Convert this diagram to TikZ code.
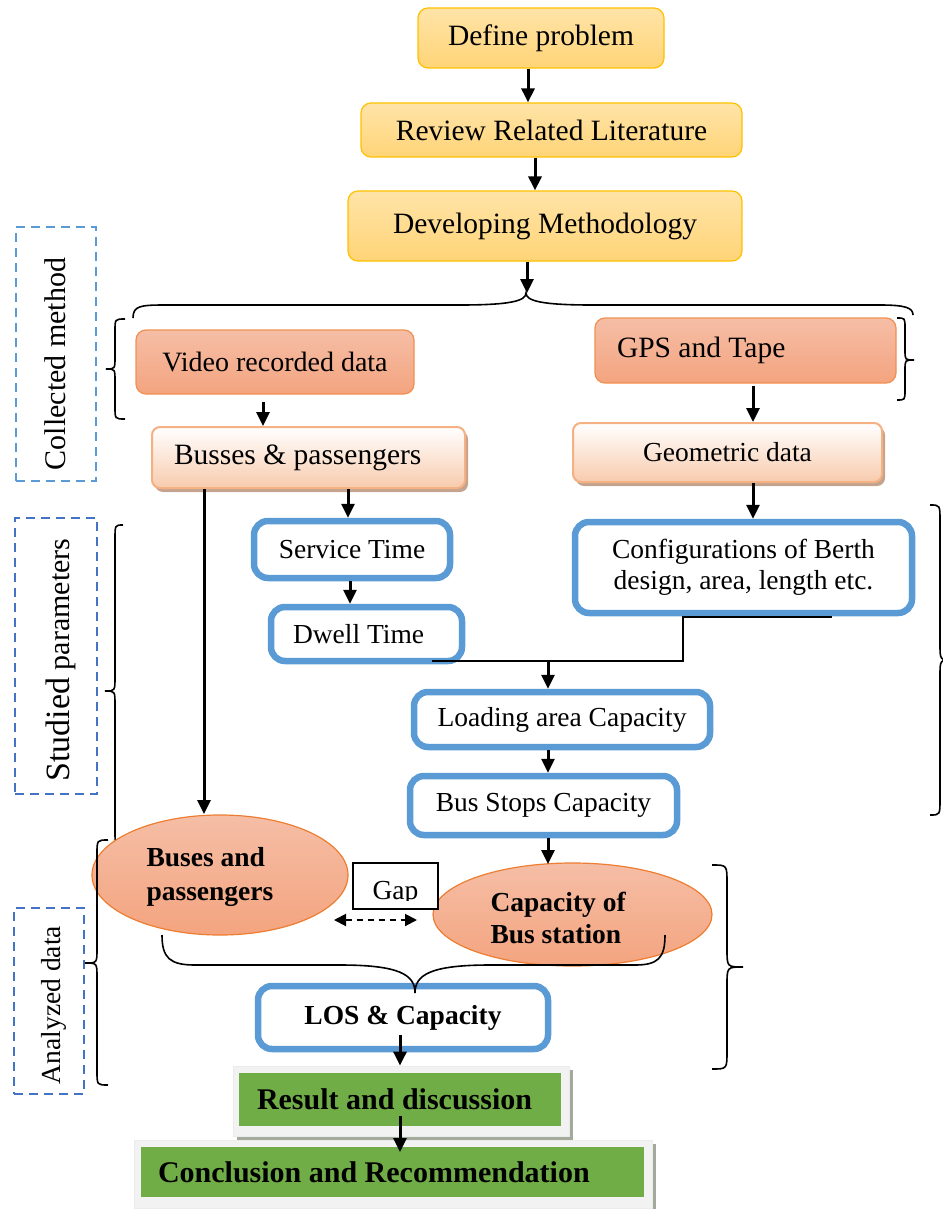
\documentclass[tikz,border=0pt]{standalone}
\usepackage{fontspec}
\setmainfont{Liberation Serif}
\usetikzlibrary{arrows.meta,shadows,shapes.geometric,calc}

\definecolor{yelA}{HTML}{FFE4A8}
\definecolor{yelB}{HTML}{FFD477}
\definecolor{yelD}{HTML}{FFC000}
\definecolor{orA}{HTML}{F5BEA6}
\definecolor{orB}{HTML}{F4A47F}
\definecolor{orD}{HTML}{ED7D31}
\definecolor{pchB}{HTML}{F8CBAD}
\definecolor{pchD}{HTML}{F4B183}
\definecolor{pchS}{HTML}{C4A48E}
\definecolor{bluD}{HTML}{5B9BD5}
\definecolor{bluE}{HTML}{4472C4}
\definecolor{grn}{HTML}{70AD47}
\definecolor{frm}{HTML}{F2F2F2}
\definecolor{frmS}{HTML}{A3AA9C}

% vertical curly brace: end x, stem x, tip x, top y, tip y, bottom y, corner size
\newcommand\bracev[7]{%
  \draw[brc] (#1,#4) .. controls (#2,#4) .. ({#2},{#4+#7}) -- ({#2},{#5-#7})
    .. controls (#2,#5) .. (#3,#5) .. controls (#2,#5) .. ({#2},{#5+#7})
    -- ({#2},{#6-#7}) .. controls (#2,#6) .. (#1,#6);}

\tikzset{
  every node/.style={font=\fontsize{27.5}{31}\selectfont, text=black},
  bigtext/.style={font=\fontsize{29.5}{33}\selectfont},
  yelbox/.style={draw=yelD, line width=1.2pt, rounded corners=10pt,
    top color=yelA, bottom color=yelB, inner sep=0pt, bigtext},
  orbox/.style={draw=orD!85, line width=1.2pt, rounded corners=10pt,
    top color=orA, bottom color=orB, inner sep=0pt, bigtext},
  pchbox/.style={draw=pchD, line width=2pt, rounded corners=8pt,
    top color=white, bottom color=pchB, inner sep=0pt,
    drop shadow={shadow xshift=3pt, shadow yshift=-4pt, fill=pchS, opacity=1}},
  blubox/.style={draw=bluD, line width=6.5pt, rounded corners=14pt, fill=white,
    inner sep=0pt, align=center},
  ell/.style={ellipse, draw=orD, line width=1.2pt, top color=orA,
    bottom color=orB, inner sep=0pt},
  boldtext/.style={font=\bfseries\fontsize{27.5}{34}\selectfont, align=flush left},
  lblbox/.style={draw, line width=2pt, dash pattern=on 9pt off 6pt},
  frame/.style={fill=frm, draw=black!8, line width=0.8pt,
    drop shadow={shadow xshift=4pt, shadow yshift=-4pt, fill=frmS, opacity=1}},
  grnbox/.style={fill=grn, inner sep=0pt,
    font=\bfseries\fontsize{30}{33}\selectfont},
  arr/.style={line width=3pt, -{Triangle[width=13pt,length=14pt]}},
  con/.style={line width=2pt},
  brc/.style={line width=1.6pt},
  gaparr/.style={line width=2pt, dash pattern=on 6pt off 5pt,
    {Triangle[width=12pt,length=12pt]}-{Triangle[width=12pt,length=12pt]}},
}

\begin{document}
\begin{tikzpicture}[x=1pt,y=-1pt]
\useasboundingbox (0,0) rectangle (942,1209);

% side labels
\node[lblbox, draw=bluD, minimum width=80, minimum height=254] (cmbox) at (56,354) {};
\node[rotate=90, font=\fontsize{30}{33}\selectfont] (cmtext) at (55,364) {Collected method};
\node[lblbox, draw=bluE, minimum width=82, minimum height=276] (spbox) at (56,656) {};
\node[rotate=90, font=\fontsize{30}{33}\selectfont] (sptext) at (61,660)
  {{\fontsize{34}{36}\selectfont Studied} parameters};
\node[lblbox, draw=bluE, minimum width=70, minimum height=186] (adbox) at (49,1001) {};
\node[rotate=90] (adtext) at (54,1005) {Analyzed data};

% planning steps
\node[yelbox, minimum width=246, minimum height=60] (def) at (541,38) {Define problem};
\node[yelbox, minimum width=381, minimum height=54] (rev) at (551.5,130) {Review Related Literature};
\node[yelbox, minimum width=394, minimum height=70] (dev) at (545,226) {Developing Methodology};

% data collection
\node[orbox, minimum width=278, minimum height=64, font=\fontsize{28}{31}\selectfont] (vid) at (275,362) {Video recorded data};
\node[orbox, minimum height=65, text width=257, inner xsep=22pt, align=flush left] (gps) at (745.5,350.5) {GPS and Tape};
\node[pchbox, minimum height=61, text width=269, inner xsep=22pt, align=flush left, bigtext] (bus) at (308.5,457.5) {Busses \& passengers};
\node[pchbox, minimum width=309, minimum height=59] (geo) at (727.5,452.5) {Geometric data};

% studied parameters
\node[blubox, minimum width=196, minimum height=57] (serv) at (352,549.5) {Service Time};
\node[blubox, minimum height=54, text width=147, inner xsep=22pt, align=flush left] (dwell) at (366.5,634) {Dwell Time};
\node[blubox, minimum width=337, minimum height=91] (conf) at (743.5,567.5) {Configurations of Berth\\design, area, length etc.};
\node[blubox, minimum width=296, minimum height=55] (load) at (562,719.5) {Loading area Capacity};
\node[blubox, minimum width=267, minimum height=59] (stops) at (543.5,805.5) {Bus Stops Capacity};

% left brace of the studied parameters, under the ellipse
\bracev{123}{115}{105}{525}{691}{845}{14}

% analysed data
\node[ell, minimum width=256, minimum height=120] (bpe) at (220,875) {};
\node[boldtext, anchor=west] (bpt) at (143,877) {Buses and\\passengers};
\node[ell, minimum width=279, minimum height=103] (cpe) at (572.5,914.5) {};
\node[boldtext, anchor=west, font=\bfseries\fontsize{27.5}{32}\selectfont] (cpt) at (487,917.5) {Capacity of\\Bus station};
\node[draw, line width=1.5pt, fill=white, minimum width=85, minimum height=46] (gap) at (395.5,886) {};
\begin{scope}
  \clip (353,863) rectangle (438,900);
  \node[anchor=base] (gaptext) at (395.5,899) {Gap};
\end{scope}
\coordinate (g1) at (334,920);
\coordinate (g2) at (417,920);
\draw[gaparr] (g1) -- (g2);

\node[blubox, minimum width=290, minimum height=63, font=\bfseries\fontsize{27.5}{31}\selectfont] (los) at (403,1017.5) {LOS \& Capacity};

% results
\node[frame, minimum width=336, minimum height=70] (resf) at (401,1101) {};
\node[grnbox, minimum height=53, text width=286, inner xsep=18pt, align=flush left] (res) at (400,1099.5) {Result and discussion};
\node[frame, minimum width=518, minimum height=68] (concf) at (393,1174) {};
\node[grnbox, minimum height=50, text width=469, inner xsep=17pt, align=flush left] (conc) at (392.5,1172) {Conclusion and Recommendation};

% braces
\draw[brc] (133,318) .. controls (133,306) and (140,305) .. (165,305) -- (460,305)
  .. controls (510,305) and (526,301) .. (526,293)
  .. controls (526,301) and (542,305) .. (592,305) -- (880,305)
  .. controls (906,305) and (913,308) .. (913,315);
\bracev{125}{115}{106}{319}{369}{419}{12}
\bracev{897}{905}{914}{318}{360}{400}{10}
\bracev{930}{940}{952}{505}{660}{815}{16}
\bracev{108}{97}{85}{840}{963}{1085}{14}
\bracev{712}{727}{743}{865}{967}{1069}{18}
\draw[brc] (162,935) .. controls (162,958) and (170,965) .. (195,965) -- (340,965)
  .. controls (400,965) and (415,975) .. (415,993)
  .. controls (415,975) and (430,965) .. (490,965) -- (635,965)
  .. controls (658,965) and (665,958) .. (665,935);

% arrows
\coordinate (c1) at (528,0);
\draw[arr] (c1 |- def.south) -- (c1 |- rev.north);
\coordinate (c2) at (535,0);
\draw[arr] (c2 |- rev.south) -- (c2 |- dev.north);
\coordinate (bt) at (527,293);
\draw[arr] (bt |- dev.south) -- (bt);
\coordinate (c4) at (263,402);
\draw[arr] (c4) -- (c4 |- bus.north);
\coordinate (c5) at (753,386);
\draw[arr] (c5) -- (c5 |- geo.north);
\coordinate (c6) at (753,0);
\draw[arr] (c6 |- geo.south) -- (c6 |- conf.north);
\coordinate (c7) at (348,0);
\draw[arr] (c7 |- bus.south) -- (c7 |- serv.north);
\coordinate (c8) at (350,0);
\draw[arr] (c8 |- serv.south) -- (c8 |- dwell.north);
\coordinate (e9) at (204,814);
\draw[arr] (e9 |- bus.south) -- (e9);

\coordinate (j1) at (432,661);
\coordinate (j3) at (683,617);
\coordinate (j4) at (832,617);
\draw[con] (j1) -| (j3) -- (j4);
\coordinate (jm) at (548,661);
\draw[arr] (jm) -- (jm |- load.north);
\coordinate (c11) at (548,0);
\draw[arr] (c11 |- load.south) -- (c11 |- stops.north);
\coordinate (c12) at (548,864);
\draw[arr] (c12 |- stops.south) -- (c12);
\coordinate (c13) at (400,1035);
\draw[arr] (c13) -- (c13 |- resf.north);
\coordinate (c14) at (400,1116);
\coordinate (e14) at (400,1152);
\draw[arr] (c14) -- (e14);
\end{tikzpicture}
\end{document}
